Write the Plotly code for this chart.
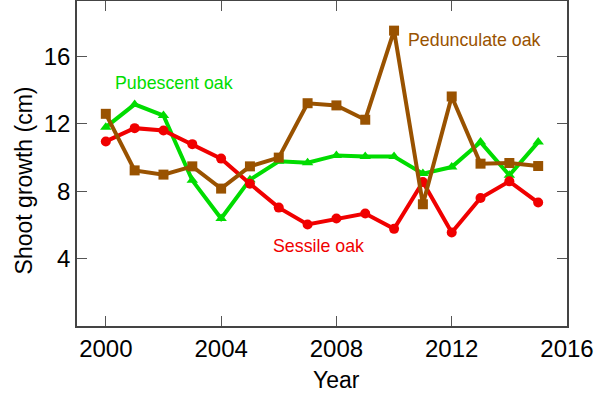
import plotly.graph_objects as go

years = list(range(2000, 2016))
sessile = [10.96, 11.75, 11.61, 10.8, 9.94, 8.45, 7.03, 6.03, 6.38, 6.68, 5.77, 8.55, 5.55, 7.6, 8.59, 7.33]
pubescent = [11.81, 13.16, 12.5, 8.65, 6.38, 8.69, 9.78, 9.7, 10.13, 10.07, 10.07, 9.05, 9.44, 10.92, 8.95, 10.92]
pedunculate = [12.6, 9.24, 8.99, 9.48, 8.16, 9.48, 10.0, 13.23, 13.1, 12.25, 17.54, 7.23, 13.63, 9.64, 9.68, 9.5]

x_ticks = [2000, 2004, 2008, 2012, 2016]
y_ticks = [4, 8, 12, 16]

GREEN = "rgb(0,220,0)"
RED = "rgb(240,0,0)"
BROWN = "rgb(153,82,0)"
FONT = "Liberation Sans"

fig = go.Figure()
fig.add_trace(go.Scatter(x=years, y=pubescent, mode="lines+markers",
                         line=dict(color=GREEN, width=4),
                         marker=dict(symbol="triangle-up", size=10, color=GREEN)))
fig.add_trace(go.Scatter(x=years, y=sessile, mode="lines+markers",
                         line=dict(color=RED, width=4),
                         marker=dict(symbol="circle", size=10, color=RED)))
fig.add_trace(go.Scatter(x=years, y=pedunculate, mode="lines+markers",
                         line=dict(color=BROWN, width=4),
                         marker=dict(symbol="square", size=10, color=BROWN)))

fig.add_annotation(x=2002.38, y=14.46, text="Pubescent oak", showarrow=False,
                   font=dict(color=GREEN, size=17.8, family=FONT))
fig.add_annotation(x=2012.78, y=16.99, text="Pedunculate oak", showarrow=False,
                   font=dict(color=BROWN, size=17.8, family=FONT))
fig.add_annotation(x=2007.39, y=4.76, text="Sessile oak", showarrow=False,
                   font=dict(color=RED, size=17.8, family=FONT))

# axis titles placed as annotations to match reference positions
fig.add_annotation(xref="paper", yref="paper", x=0.5286, y=-0.1656,
                   text="Year", showarrow=False, xanchor="center", yanchor="middle",
                   font=dict(size=23, family=FONT, color="black"))
fig.add_annotation(xref="paper", yref="paper", x=-0.1082, y=0.448,
                   text="Shoot growth (cm)", showarrow=False, textangle=-90,
                   xanchor="center", yanchor="middle",
                   font=dict(size=23, family=FONT, color="black"))

fig.update_layout(
    width=600, height=400,
    margin=dict(l=77, r=33, t=1, b=74),
    plot_bgcolor="white", paper_bgcolor="white",
    showlegend=False,
    font=dict(family=FONT, color="black"),
)
fig.update_xaxes(range=[1999, 2016], tickvals=x_ticks, ticks="inside", ticklen=10,
                 tickcolor="#555555", tickwidth=1, showline=True, linecolor="#444444",
                 linewidth=1.5, mirror="ticks", showgrid=False, zeroline=False,
                 automargin=False, tickfont=dict(size=24))
fig.update_yaxes(range=[0, 19.3], tickvals=y_ticks, ticks="inside", ticklen=10,
                 tickcolor="#555555", tickwidth=1, showline=True, linecolor="#444444",
                 linewidth=1.5, mirror="ticks", showgrid=False, zeroline=False,
                 automargin=False, tickfont=dict(size=24))

fig.write_html("out.html", config={"displayModeBar": False},
               post_script="document.body.style.margin='0';")
